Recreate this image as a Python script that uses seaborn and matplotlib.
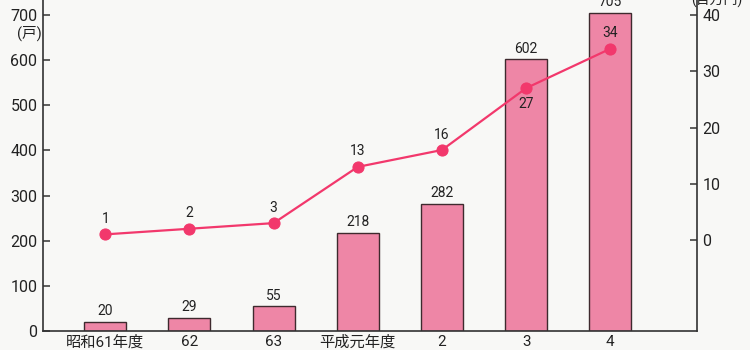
import numpy as np
import pandas as pd
import matplotlib
matplotlib.use("Agg")
import matplotlib.pyplot as plt
import seaborn as sns

# Fiscal years, dwellings (bars, left axis) and amounts (line, right axis)
years = ["昭和61年度", "62", "63", "平成元年度", "2", "3", "4"]
dwellings = [20, 29, 55, 218, 282, 602, 705]
amounts = [1, 2, 3, 13, 16, 27, 34]
# amount labels drawn below the point instead of above
label_below = [False, False, False, False, False, True, False]

sns.set_theme(style="white")
plt.rcParams["font.family"] = ["Roboto", "Noto Sans CJK JP", "DejaVu Sans"]

BG = "#f8f8f6"
BAR = "#ee86a6"
EDGE = "#3e2a2e"
LINE = "#f2386c"
INK = "#222222"

df = pd.DataFrame({"year": years, "dwellings": dwellings})

fig = plt.figure(figsize=(7.5, 3.5), dpi=100, facecolor=BG)
ax = fig.add_axes([43 / 750, 1 - 331 / 350, (697 - 43) / 750, 331 / 350])
ax.set_facecolor(BG)

sns.barplot(data=df, x="year", y="dwellings", ax=ax, color=BAR, width=0.5,
            edgecolor=EDGE, linewidth=1.0, saturation=1)
ax.set_xlim(-0.74, 7.03)
ax.set_ylim(0, 733)
ax.set_yticks(range(0, 701, 100))
ax.set_xlabel("")
ax.set_ylabel("")
for i, v in enumerate(dwellings):
    ax.text(i, v + 8, str(v), ha="center", va="bottom", fontsize=10, color=INK)

for s in ["top", "right"]:
    ax.spines[s].set_visible(False)
for s in ["left", "bottom"]:
    ax.spines[s].set_color("#333333")
    ax.spines[s].set_linewidth(1.2)
ax.tick_params(axis="y", direction="in", length=5, width=1.1, color="#333333",
               labelsize=11.5, labelcolor=INK, pad=4)
ax.tick_params(axis="x", length=0, labelsize=11, labelcolor=INK, pad=3)
ax.text(-0.021, 0.9, "(戸)", transform=ax.transAxes, ha="center", va="center",
        fontsize=10.5, color=INK)

ax2 = ax.twinx()
sns.lineplot(x=np.arange(len(amounts)), y=amounts, ax=ax2, color=LINE, linewidth=1.6,
             marker="o", markersize=8, markeredgecolor=LINE, markerfacecolor=LINE)
ax2.set_ylim(-16.18, 42.67)
ax2.set_yticks(range(0, 41, 10))
ax2.set_ylabel("")
for s in ["top", "left", "bottom"]:
    ax2.spines[s].set_visible(False)
ax2.spines["right"].set_color("#333333")
ax2.spines["right"].set_linewidth(1.2)
ax2.tick_params(axis="y", direction="in", length=5, width=1.1, color="#333333",
                labelsize=11.5, labelcolor=INK, pad=4)
for i, (v, below) in enumerate(zip(amounts, label_below)):
    if below:
        ax2.text(i, v - 1.5, str(v), ha="center", va="top", fontsize=10, color=INK)
    else:
        ax2.text(i, v + 1.5, str(v), ha="center", va="bottom", fontsize=10, color=INK)
ax2.text(1.03, 1.0, "(百万円)", transform=ax2.transAxes, ha="center", va="center",
         fontsize=10, color=INK)

fig.savefig("out.png", dpi=100, facecolor=BG)
